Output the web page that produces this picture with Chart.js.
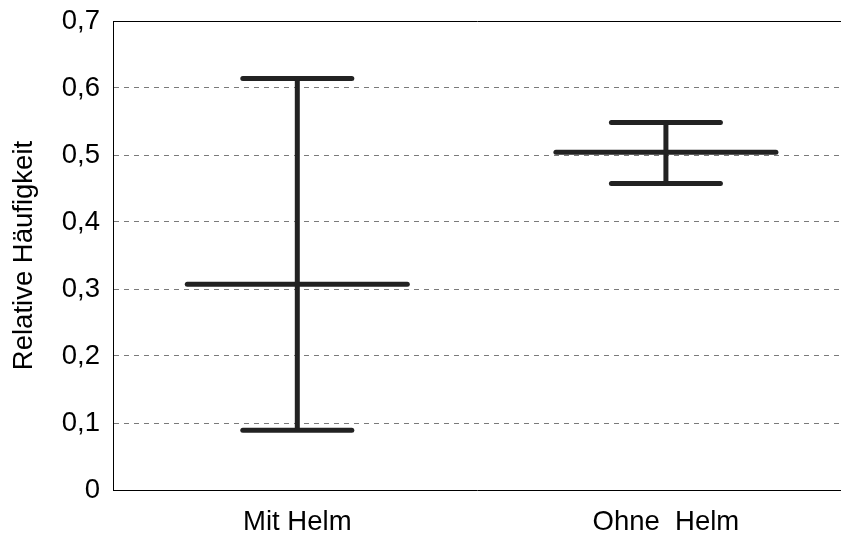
<!DOCTYPE html>
<html>
<head>
<meta charset="utf-8">
<script src="https://cdn.jsdelivr.net/npm/chart.js@4/dist/chart.umd.min.js"></script>
<style>
  html, body { margin: 0; padding: 0; background: #ffffff; }
  #wrap { width: 841px; height: 537px; }
</style>
</head>
<body>
<div id="wrap"><canvas id="chart" width="841" height="537"></canvas></div>
<script>
// Relative frequency with confidence interval per group
const categories = ['Mit Helm', 'Ohne  Helm'];
const means = [0.307, 0.504];
const lower = [0.089, 0.4575];
const upper = [0.614, 0.5485];
const yTicks = [0, 0.1, 0.2, 0.3, 0.4, 0.5, 0.6, 0.7];

const INK = '#222222';
const FONT = "'Liberation Sans', Arial, sans-serif";

// one vertical whisker per group
const whiskerSets = categories.map((c, i) => ({
  type: 'line',
  data: [{ x: i + 1, y: lower[i] }, { x: i + 1, y: upper[i] }],
  borderColor: INK,
  borderWidth: 5,
  pointRadius: 0,
  borderCapStyle: 'butt'
}));

const meanSet = {
  type: 'scatter',
  data: categories.map((c, i) => ({ x: i + 1, y: means[i] })),
  pointStyle: 'line',
  pointRadius: 110,
  borderColor: INK,
  backgroundColor: INK,
  borderWidth: 5
};

const capSet = {
  type: 'scatter',
  data: categories.flatMap((c, i) => [{ x: i + 1, y: lower[i] }, { x: i + 1, y: upper[i] }]),
  pointStyle: 'line',
  pointRadius: 54.5,
  borderColor: INK,
  backgroundColor: INK,
  borderWidth: 5
};

const roundCaps = {
  id: 'roundCaps',
  beforeDatasetsDraw(chart) { chart.ctx.lineCap = 'round'; }
};

new Chart(document.getElementById('chart'), {
  type: 'scatter',
  data: { datasets: [...whiskerSets, meanSet, capSet] },
  plugins: [roundCaps],
  options: {
    responsive: false,
    animation: false,
    events: [],
    devicePixelRatio: 1,
    layout: { autoPadding: false, padding: 0 },
    plugins: { legend: { display: false }, tooltip: { enabled: false } },
    scales: {
      x: {
        type: 'linear',
        position: 'bottom',
        min: 0.5,
        max: 2.475,
        afterBuildTicks(scale) { scale.ticks = categories.map((c, i) => ({ value: i + 1 })); },
        afterFit(scale) { scale.height = 47; scale.paddingLeft = 0; scale.paddingRight = 0; },
        grid: { display: false, drawTicks: false },
        border: { display: true, color: '#000000', width: 1 },
        ticks: {
          callback: (v) => categories[Math.round(v) - 1],
          color: '#000000',
          font: { family: FONT, size: 27.5 },
          padding: 16,
          maxRotation: 0,
          autoSkip: false
        }
      },
      x2: {
        type: 'linear',
        position: 'top',
        display: true,
        afterFit(scale) { scale.height = 21; },
        grid: { display: false, drawTicks: false },
        border: { display: true, color: '#000000', width: 1 },
        ticks: { display: false }
      },
      y: {
        min: 0,
        max: 0.7,
        afterBuildTicks(scale) { scale.ticks = yTicks.map(v => ({ value: v })); },
        afterFit(scale) { scale.width = 113; scale.paddingTop = 0; scale.paddingBottom = 0; },
        grid: {
          drawTicks: false,
          color: (ctx) => (ctx.index === 0 || ctx.index === yTicks.length - 1) ? 'rgba(0,0,0,0)' : '#7a7a7a',
          lineWidth: 1
        },
        border: { display: true, color: '#000000', width: 1, dash: [5, 5] },
        ticks: {
          callback: (v) => v === 0 ? '0' : v.toFixed(1).replace('.', ','),
          color: '#000000',
          font: { family: FONT, size: 27.5 },
          padding: 13
        },
        title: {
          display: true,
          text: 'Relative Häufigkeit',
          color: '#000000',
          font: { family: FONT, size: 27.5 },
          padding: { top: 8, bottom: 0 }
        }
      }
    }
  }
});
</script>
</body>
</html>
